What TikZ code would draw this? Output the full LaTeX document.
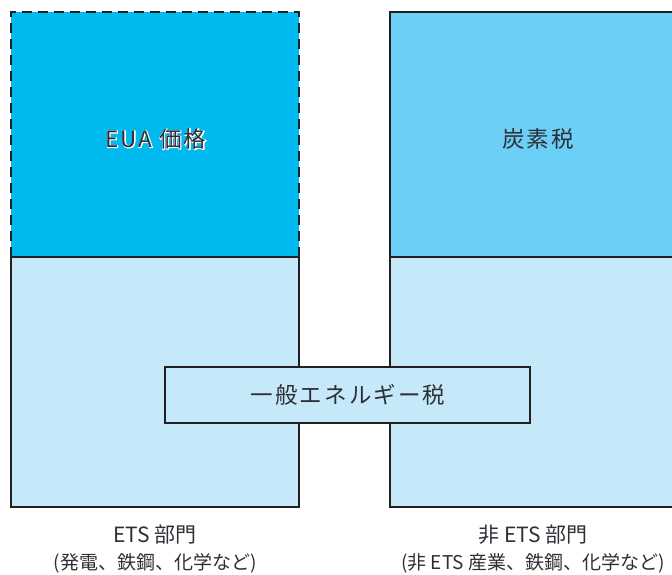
\documentclass[tikz,border=0pt]{standalone}
\usepackage{fontspec}
\newfontfamily\jp{Noto Sans CJK JP}
\newfontfamily\jpw[LetterSpace=9]{Noto Sans CJK JP}
\newfontfamily\jphalo[LetterSpace=9,FakeBold=6]{Noto Sans CJK JP}
\definecolor{euacol}{HTML}{00B9EE}
\definecolor{carbcol}{HTML}{6CCFF6}
\definecolor{lightcol}{HTML}{C6E9F9}
\definecolor{linecol}{HTML}{231F20}
\definecolor{txtcol}{HTML}{2E2E36}
\tikzset{
  boxline/.style={draw=linecol, line width=2.7pt},
  boxlabel/.style={text=txtcol, font=\jpw\fontsize{22.5}{26}\selectfont, inner sep=0pt},
  sectlabel/.style={text=txtcol, align=center, inner sep=0pt, font=\jp\fontsize{21}{27}\selectfont}
}
\begin{document}
\begin{tikzpicture}[x=1pt,y=-1pt]
\useasboundingbox (0,0) rectangle (672,574);
\clip (0,0) rectangle (672,574);
% upper boxes
\fill[euacol] (11,12) rectangle (299,257);
\path[boxline, fill=carbcol] (390,12) rectangle (692,257);
% lower boxes
\path[boxline, fill=lightcol] (11,257) rectangle (299,507);
\path[boxline, fill=lightcol] (390,257) rectangle (692,507);
% dashed outline of the EUA box
\draw[linecol, line width=2.7pt, dash pattern=on 10pt off 6pt] (11,257) -- (11,12) -- (299,12) -- (299,257);
% general energy tax bar
\path[boxline, fill=lightcol] (165,367) rectangle (530,423);
% labels
\node[boxlabel] (eua) at (156,139) {\rlap{\color{white}\jphalo\fontsize{22.5}{26}\selectfont EUA 価格}EUA 価格};
\node[boxlabel] (carbon) at (538,139) {炭素税};
\node[boxlabel] (energy) at (348,395) {一般エネルギー税};
\node[sectlabel] (ets) at (155,549) {ETS 部門\\{\fontsize{19}{20}\selectfont (発電、鉄鋼、化学など)}};
\node[sectlabel] (nonets) at (533,549) {非 ETS 部門\\{\fontsize{19}{20}\selectfont (非 ETS 産業、鉄鋼、化学など)}};
\end{tikzpicture}
\end{document}
